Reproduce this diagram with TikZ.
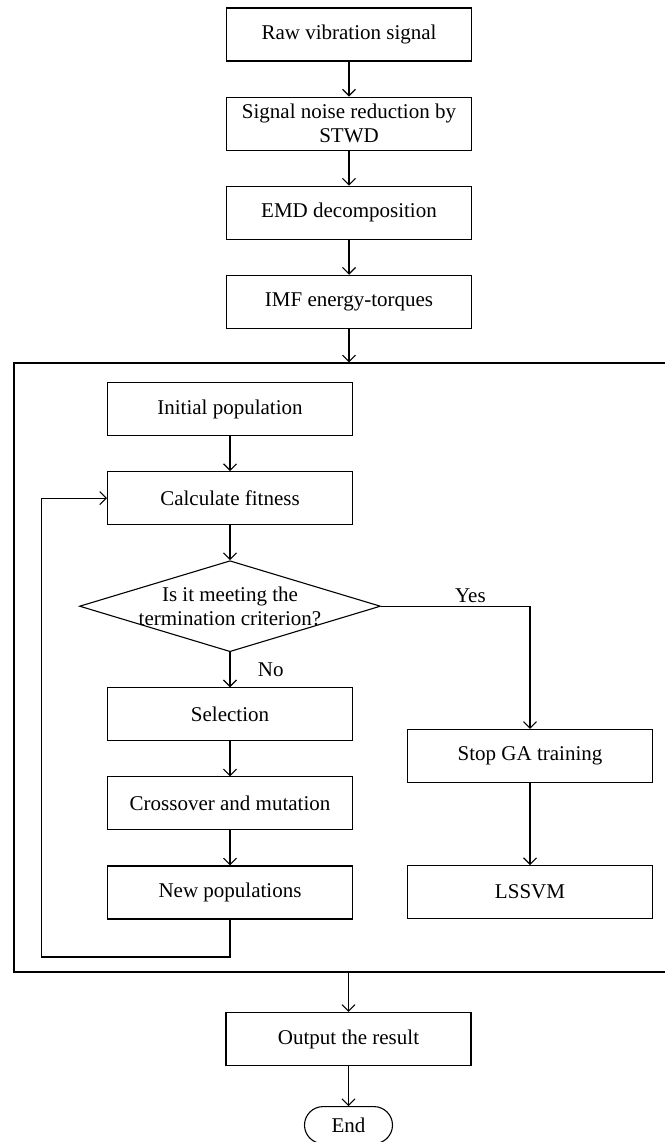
\documentclass[tikz,border=0pt]{standalone}
\usepackage{fontspec}
\setmainfont{Liberation Serif}
\usetikzlibrary{arrows.meta,positioning,shapes.geometric}

\begin{document}
\begin{tikzpicture}[x=1pt, y=-1pt, node distance=35pt, line width=1.1pt,
  every node/.style={font=\fontsize{21}{23.5}\selectfont},
  box/.style={draw, minimum height=53pt, minimum width=245pt, align=center, inner sep=2pt},
  dec/.style={draw, diamond, aspect=3.3, inner sep=-8pt, minimum width=301pt, minimum height=91pt, align=center},
  term/.style={draw, rounded corners=18.5pt, minimum width=88pt, minimum height=37pt},
  arr/.style={-{Straight Barb[length=6.5pt,width=13pt]}}]
\useasboundingbox (0,0) rectangle (664,1142);
\node[box] (raw) at (349,34.5) {Raw vibration signal};
\node[box, below=of raw] (stwd) {Signal noise reduction by\\STWD};
\node[box, below=of stwd] (emd) {EMD decomposition};
\node[box, below=of emd] (imf) {IMF energy-torques};
\node[draw, minimum width=656pt, minimum height=609pt, inner sep=0pt] (ga) at (342,667.5) {};
\node[box] (init) at (230,409) {Initial population};
\node[box, below=of init] (fit) {Calculate fitness};
\node[dec, below=of fit] (crit) {Is it meeting the\\termination criterion?};
\node[box, below=of crit] (sel) {Selection};
\node[box, below=of sel] (cross) {Crossover and mutation};
\node[box, below=of cross] (newp) {New populations};
\node[box] (stop) at (530,756) {Stop GA training};
\node[box, below=82pt of stop] (ls) {LSSVM};
\node[box] (out) at (348.5,1039) {Output the result};
\node[term, below=40pt of out] (end) {End};
\coordinate (loop) at (41.5,957);
\draw[arr] (raw) -- (stwd);
\draw[arr] (stwd) -- (emd);
\draw[arr] (emd) -- (imf);
\draw[arr] (imf) -- (imf |- ga.north);
\draw[arr] (init) -- (fit);
\draw[arr] (fit) -- (crit);
\draw[arr] (crit) -- node[right=24pt]{No} (sel);
\draw[arr] (sel) -- (cross);
\draw[arr] (cross) -- (newp);
\draw[arr] (newp.south) |- (loop) |- (fit.west);
\draw[arr] (crit.east) -| node[above, pos=0.3]{Yes} (stop.north);
\draw[arr] (stop) -- (ls);
\draw[arr] (out |- ga.south) -- (out);
\draw[arr] (out) -- (end);
\end{tikzpicture}
\end{document}
